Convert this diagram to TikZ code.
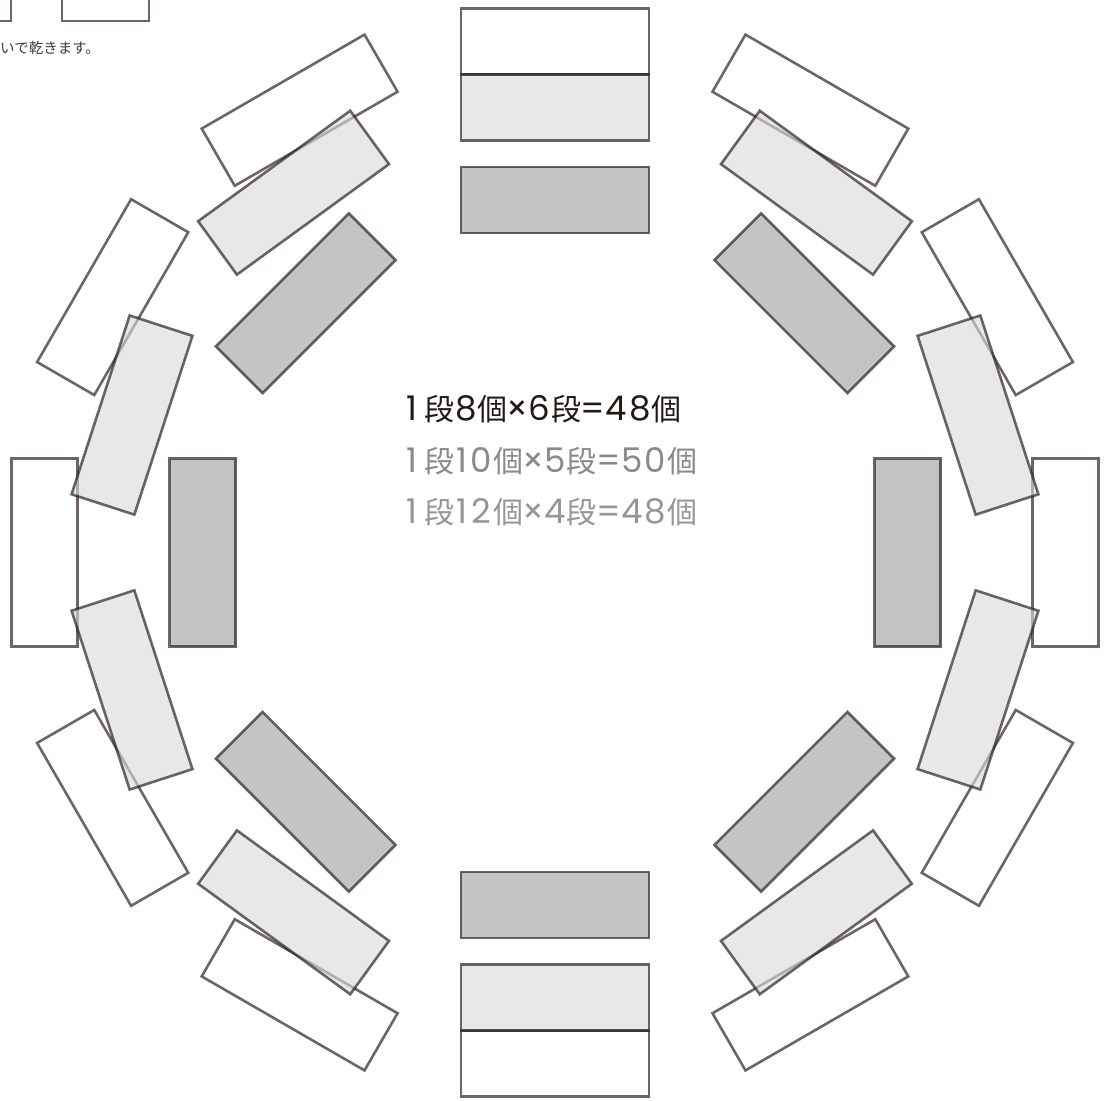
\documentclass[tikz,border=0pt]{standalone}
\usepackage{fontspec}
\newfontfamily\jpfont{Noto Sans CJK JP}
\newfontfamily\digfont{Poppins}
\newcommand{\dDig}[1]{\makebox[23.5pt][c]{\digfont\fontsize{34}{30}\selectfont #1}}
\newcommand{\dOne}{\makebox[17.5pt][l]{\digfont\fontsize{34}{30}\selectfont 1}}
\newcommand{\dOneC}{\makebox[15.5pt][c]{\digfont\fontsize{34}{30}\selectfont 1}}
\newcommand{\dMul}{\makebox[20pt][c]{\digfont\fontsize{34}{30}\selectfont ×}}
\definecolor{edgecol}{RGB}{40,30,28}
\definecolor{darkfill}{RGB}{195,196,195}
\definecolor{lightfill}{RGB}{218,218,218}
\definecolor{txtA}{RGB}{35,24,21}
\definecolor{txtB}{RGB}{138,138,138}
\definecolor{txtC}{RGB}{150,150,150}
\definecolor{notecol}{RGB}{62,58,57}
\begin{document}
\begin{tikzpicture}[x=1pt,y=1pt,
  tile/.style={rectangle, minimum width=188pt, minimum height=66pt, inner sep=0pt,
    draw=edgecol, draw opacity=0.68, line width=2.6pt},
  whitetile/.style={tile},
  lighttile/.style={tile, fill=lightfill, fill opacity=0.62},
  darktile/.style={tile, fill=darkfill},
  edgeline/.style={draw=edgecol, draw opacity=0.68, line width=2.6pt},
  caption/.style={anchor=base west, inner sep=0pt, font=\jpfont\fontsize{30}{30}\selectfont}]
\useasboundingbox (0,-1101) rectangle (1104,0);
\clip (0,-1101) rectangle (1104,0);
% partial shapes at the top-left corner
\draw[edgeline] (-20,30) rectangle (11,-21);
\draw[edgeline] (62,30) rectangle (149,-21);
\node[anchor=west, inner sep=0pt, text=notecol, font=\jpfont\fontsize{14.5}{14.5}\selectfont] (note) at (0,-47.5) {いで乾きます。};
\begin{scope}[shift={(555,-552.5)}]
  \foreach \k in {0,...,11} {
    \pgfmathsetmacro\ang{90+30*\k}
    \node[whitetile, rotate=\ang-90] (w\k) at (\ang:510.75) {};
  }
  \foreach \k in {0,...,9} {
    \pgfmathsetmacro\ang{90+36*\k}
    \node[lighttile, rotate=\ang-90] (l\k) at (\ang:444.75) {};
  }
  \foreach \k in {0,...,7} {
    \pgfmathsetmacro\ang{90+45*\k}
    \node[darktile, rotate=\ang-90] (d\k) at (\ang:352.5) {};
  }
\end{scope}
\node[caption, text=txtA] (t1) at (406.5,-420) {\dOne 段\dDig{8}個\dMul\dDig{6}段\dDig{=}\dDig{4}\dDig{8}個};
\node[caption, text=txtB] (t2) at (406.5,-472) {\dOne 段\dOneC\dDig{0}個\dMul\dDig{5}段\dDig{=}\dDig{5}\dDig{0}個};
\node[caption, text=txtC] (t3) at (406.5,-523) {\dOne 段\dOneC\dDig{2}個\dMul\dDig{4}段\dDig{=}\dDig{4}\dDig{8}個};
\end{tikzpicture}
\end{document}
